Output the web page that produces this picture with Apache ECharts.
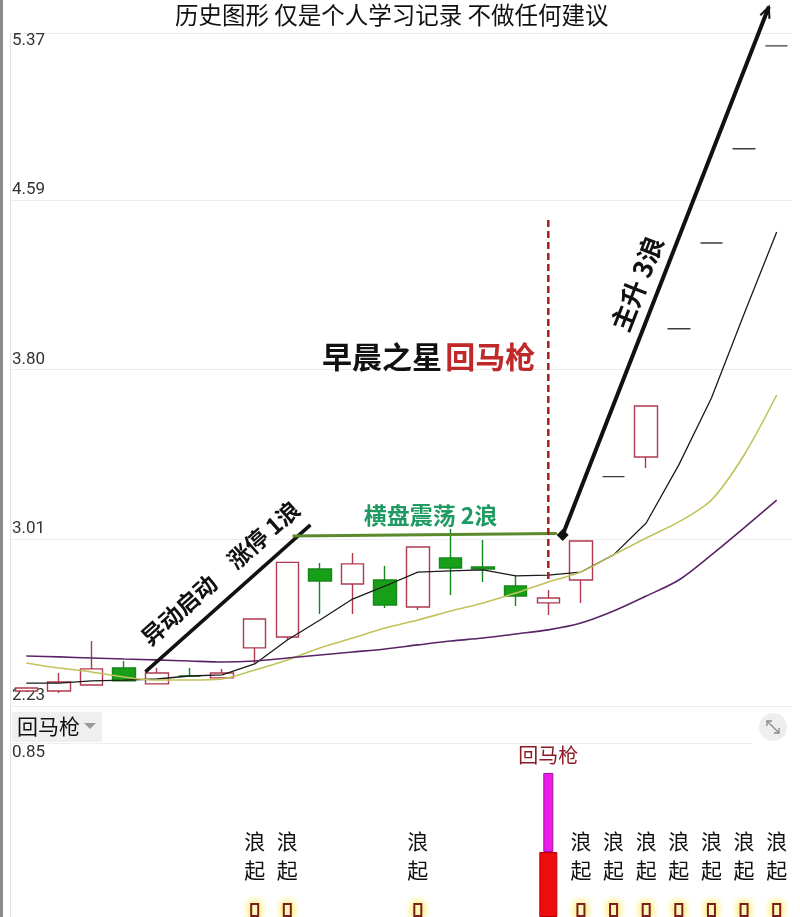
<!DOCTYPE html>
<html>
<head>
<meta charset="utf-8">
<script src="https://cdn.jsdelivr.net/npm/echarts@6/dist/echarts.min.js"></script>
<style>
html,body{margin:0;padding:0;background:#ffffff;}
#c{width:800px;height:917px;}
</style>
</head>
<body>
<div id="c"></div>
<script>
// ---------------- data ----------------
const categories = ['1','2','3','4','5','6','7','8','9','10','11','12','13','14','15','16','17','18','19','20','21','22','23','24'];
const opens  = [2.300, 2.300, 2.328, 2.407, 2.333, 2.370, 2.361, 2.501, 2.552, 2.869, 2.799, 2.818, 2.692, 2.921, 2.879, 2.790, 2.711, 2.818, 3.30, 3.392, 3.99, 4.39, 4.83, 5.31];
const closes = [2.314, 2.342, 2.403, 2.347, 2.384, 2.370, 2.384, 2.636, 2.900, 2.813, 2.893, 2.701, 2.972, 2.874, 2.869, 2.743, 2.734, 3.000, 3.30, 3.630, 3.99, 4.39, 4.83, 5.31];
const lows   = [2.295, 2.291, 2.325, 2.347, 2.333, 2.366, 2.361, 2.431, 2.538, 2.659, 2.659, 2.687, 2.678, 2.748, 2.809, 2.697, 2.655, 2.711, 3.30, 3.341, 3.99, 4.39, 4.83, 5.31];
const highs  = [2.316, 2.384, 2.533, 2.440, 2.407, 2.407, 2.403, 2.636, 2.900, 2.897, 2.944, 2.883, 2.972, 3.056, 3.005, 2.841, 2.771, 3.000, 3.30, 3.630, 3.99, 4.39, 4.83, 5.31];
const oneLineLimitIdx = [18, 20, 21, 22, 23];

const maShort = [2.337, 2.337, 2.347, 2.351, 2.356, 2.370, 2.375, 2.426, 2.538, 2.631, 2.729, 2.790, 2.855, 2.860, 2.865, 2.837, 2.841, 2.855, 2.935, 3.084, 3.355, 3.667, 4.059, 4.442];
const maMid   = [2.431, 2.407, 2.389, 2.365, 2.351, 2.351, 2.356, 2.398, 2.445, 2.501, 2.547, 2.594, 2.631, 2.673, 2.711, 2.757, 2.809, 2.855, 2.935, 3.014, 3.089, 3.191, 3.401, 3.681];
const maLong  = [2.463, 2.459, 2.454, 2.449, 2.445, 2.440, 2.435, 2.440, 2.454, 2.468, 2.482, 2.496, 2.515, 2.533, 2.547, 2.566, 2.585, 2.617, 2.673, 2.743, 2.818, 2.935, 3.061, 3.191];

const yTicks = [2.23, 3.01, 3.80, 4.59, 5.37];
const yTickLabels = ['2.23', '3.01', '3.80', '4.59', '5.37'];
const subTicks = [0.85];
const subTickLabels = ['0.85'];

const waveSignal = ['-','-','-','-','-','-','-',0.069,0.069,'-','-','-',0.069,'-','-','-','-',0.069,0.069,0.069,0.069,0.069,0.069,0.069];
const hmqBase    = ['-','-','-','-','-','-','-','-','-','-','-','-','-','-','-','-',0.321,'-','-','-','-','-','-','-'];
const hmqTop     = ['-','-','-','-','-','-','-','-','-','-','-','-','-','-','-','-',0.712,'-','-','-','-','-','-','-'];

// annotation anchors in (category index, price)
const wave1Line  = [[3.65, 2.389], [8.71, 3.075]];
const wave1Text  = [5.95, 2.850];
const wave2Line  = [[8.16, 3.023], [16.26, 3.035]];
const wave2Text  = [12.39, 3.121];
const starLine   = [[16, 4.498], [16, 2.809]];
const starText   = [12.33, 3.859];
const wave3Arrow = [[16.44, 3.028], [22.76, 5.492]];
const wave3Text  = [18.72, 4.200];

const CJK = '"Noto Sans CJK SC", "Noto Sans", sans-serif';

// ---------------- chart ----------------
const chart = echarts.init(document.getElementById('c'), null, {renderer: 'canvas'});

const candleData = categories.map((c, i) => {
  const item = {value: [opens[i], closes[i], lows[i], highs[i]]};
  if (oneLineLimitIdx.includes(i)) {
    item.itemStyle = {color: '#3c3c3c', color0: '#3c3c3c', borderColor: '#3c3c3c', borderColor0: '#3c3c3c'};
  }
  return item;
});
const hmqUpper = hmqTop.map((v, i) => (v === '-' ? '-' : +(v - hmqBase[i]).toFixed(3)));

function lookup(ticks, labels, v) {
  const k = ticks.findIndex(t => Math.abs(t - v) < 1e-6);
  return k < 0 ? '' : labels[k];
}

const labelRich = {
  up: {padding: [0, 0, 20, 0], fontSize: 17, fontFamily: 'Roboto', fill: '#333', color: '#333'},
  dn: {padding: [16, 0, 0, 0], fontSize: 17, fontFamily: 'Roboto', fill: '#333', color: '#333'}
};

const option = {
  animation: false,
  backgroundColor: '#ffffff',
  title: {
    text: '历史图形 仅是个人学习记录 不做任何建议',
    left: 170, top: -2,
    textStyle: {fontSize: 23.5, fontWeight: 'normal', color: '#111', fontFamily: CJK}
  },
  grid: [
    {left: 10, right: 7, top: 33, bottom: 211, outerBoundsMode: 'none'},
    {left: 10, right: 7, top: 745, bottom: 0, outerBoundsMode: 'none'}
  ],
  xAxis: [
    {type: 'category', gridIndex: 0, data: categories, boundaryGap: true, axisLine: {show: false}, axisTick: {show: false}, axisLabel: {show: false}, splitLine: {show: false}},
    {type: 'category', gridIndex: 1, data: categories, boundaryGap: true, axisLine: {show: false}, axisTick: {show: false}, axisLabel: {show: false}, splitLine: {show: false}},
    {type: 'category', gridIndex: 1, data: categories, boundaryGap: true, show: false},
    {type: 'category', gridIndex: 1, data: categories, boundaryGap: true, show: false}
  ],
  yAxis: [
    {
      type: 'value', gridIndex: 0, min: 2.23, max: 5.37, position: 'left',
      axisLine: {show: false},
      axisTick: {show: false, customValues: yTicks},
      splitLine: {show: true, lineStyle: {color: '#ececec', width: 1}},
      axisLabel: {
        inside: true, margin: 2, customValues: yTicks,
        formatter: v => {
          const t = lookup(yTicks, yTickLabels, v);
          return Math.abs(v - 5.37) < 1e-6 ? '{dn|' + t + '}' : '{up|' + t + '}';
        },
        rich: labelRich, verticalAlign: 'middle', color: '#333', fontSize: 17, fontFamily: 'Roboto'
      }
    },
    {
      type: 'value', gridIndex: 1, min: 0, max: 0.85, position: 'left',
      axisLine: {show: false},
      axisTick: {show: false, customValues: subTicks},
      splitLine: {show: false},
      axisLabel: {
        inside: true, margin: 2, customValues: subTicks,
        formatter: v => '{dn|' + lookup(subTicks, subTickLabels, v) + '}',
        rich: labelRich, verticalAlign: 'middle', color: '#333', fontSize: 17, fontFamily: 'Roboto'
      }
    }
  ],
  series: [
    {
      type: 'candlestick', name: 'K', xAxisIndex: 0, yAxisIndex: 0, z: 2,
      barWidth: 23, data: candleData,
      itemStyle: {color: '#ffffff', color0: '#17a017', borderColor: '#b0384c', borderColor0: '#15861a', borderWidth: 1.4}
    },
    {type: 'line', name: 'MA5', xAxisIndex: 0, yAxisIndex: 0, z: 3, data: maShort, symbol: 'none', lineStyle: {color: '#1a1a1a', width: 1.3}},
    {type: 'line', name: 'MA10', xAxisIndex: 0, yAxisIndex: 0, z: 3, data: maMid, symbol: 'none', smooth: 0.3, lineStyle: {color: '#c2c25a', width: 1.6}},
    {type: 'line', name: 'MA20', xAxisIndex: 0, yAxisIndex: 0, z: 3, data: maLong, symbol: 'none', smooth: 0.3, lineStyle: {color: '#5a2466', width: 1.6}},
    {
      type: 'bar', name: '浪起', xAxisIndex: 1, yAxisIndex: 1, data: waveSignal, barWidth: 9,
      itemStyle: {color: '#ffffff', borderColor: '#7a1f1f', borderWidth: 2, shadowColor: 'rgba(255,225,0,0.95)', shadowBlur: 8},
      label: {show: true, position: 'top', distance: 19, formatter: '浪\n起', fontSize: 21, lineHeight: 29, color: '#111', fontFamily: CJK}
    },
    {
      type: 'bar', name: '回马枪底', xAxisIndex: 2, yAxisIndex: 1, data: hmqBase, barWidth: 18,
      itemStyle: {color: '#ee0c0c', borderColor: '#b40000', borderWidth: 1}
    },
    {
      type: 'bar', name: 'base', xAxisIndex: 3, yAxisIndex: 1, data: hmqBase, barWidth: 10, stack: 'h',
      itemStyle: {color: 'rgba(0,0,0,0)'}
    },
    {
      type: 'bar', name: '回马枪', xAxisIndex: 3, yAxisIndex: 1, data: hmqUpper, barWidth: 10, stack: 'h',
      itemStyle: {color: '#ea1cea', borderColor: '#a0109a', borderWidth: 1},
      label: {show: true, position: 'top', distance: 8, formatter: '回马枪', fontSize: 20, color: '#8b1c24', fontFamily: CJK}
    }
  ]
};
chart.setOption(option);

// ---------------- annotations (anchored in data space) ----------------
function P(idx, price) {
  const a = chart.convertToPixel({gridIndex: 0}, [categories[0], price]);
  const b = chart.convertToPixel({gridIndex: 0}, [categories[1], price]);
  return [a[0] + (b[0] - a[0]) * idx, a[1]];
}
function textAt(anchor, text, font, fill, rotDeg) {
  const p = P(anchor[0], anchor[1]);
  return {
    type: 'text', x: p[0], y: p[1], z: 100, rotation: (rotDeg || 0) * Math.PI / 180,
    style: {text: text, font: font, fill: fill, align: 'center', verticalAlign: 'middle'}
  };
}
const g = [];
// chrome
g.push({type: 'rect', z: 90, shape: {x: 0, y: 0, width: 3, height: 917}, style: {fill: '#8a8a8a'}});
g.push({type: 'line', z: 90, shape: {x1: 10.5, y1: 33, x2: 10.5, y2: 917}, style: {stroke: '#e0e0e0', lineWidth: 1}});
g.push({type: 'line', z: 90, shape: {x1: 10, y1: 743.5, x2: 752, y2: 743.5}, style: {stroke: '#eeeeee', lineWidth: 1}});
g.push({type: 'rect', z: 90, shape: {x: 12, y: 712, width: 90, height: 30, r: 2}, style: {fill: '#efefef'}});
g.push({type: 'text', z: 91, x: 17, y: 726, style: {text: '回马枪', font: '21px ' + CJK, fill: '#111', verticalAlign: 'middle'}});
g.push({type: 'polygon', z: 91, shape: {points: [[84, 723], [96, 723], [90, 729]]}, style: {fill: '#9a9a9a'}});
g.push({type: 'circle', z: 90, shape: {cx: 773, cy: 727, r: 14}, style: {fill: '#eeeeee'}});
g.push({type: 'polyline', z: 91, shape: {points: [[767, 721], [779, 733]]}, style: {stroke: '#888', lineWidth: 1.3}});
g.push({type: 'polyline', z: 91, shape: {points: [[767, 726], [767, 721], [772, 721]]}, style: {stroke: '#888', lineWidth: 1.3, fill: null}});
g.push({type: 'polyline', z: 91, shape: {points: [[774, 733], [779, 733], [779, 728]]}, style: {stroke: '#888', lineWidth: 1.3, fill: null}});

// wave 1
(function () {
  const a = P(wave1Line[0][0], wave1Line[0][1]), b = P(wave1Line[1][0], wave1Line[1][1]);
  g.push({type: 'line', z: 100, shape: {x1: a[0], y1: a[1], x2: b[0], y2: b[1]}, style: {stroke: '#111', lineWidth: 3.5}});
  const ang = -Math.atan2(b[1] - a[1], b[0] - a[0]) * 180 / Math.PI;
  g.push(textAt(wave1Text, '异动启动　涨停 1浪', 'bold 23px ' + CJK, '#111', ang));
})();
// wave 2
(function () {
  const a = P(wave2Line[0][0], wave2Line[0][1]), b = P(wave2Line[1][0], wave2Line[1][1]);
  g.push({type: 'line', z: 100, shape: {x1: a[0], y1: a[1], x2: b[0], y2: b[1]}, style: {stroke: '#5b8a2c', lineWidth: 3}});
  g.push(textAt(wave2Text, '横盘震荡 2浪', 'bold 23px ' + CJK, '#1f9a62', 0));
})();
// morning star dashed line + text
(function () {
  const a = P(starLine[0][0], starLine[0][1]), b = P(starLine[1][0], starLine[1][1]);
  g.push({type: 'line', z: 100, shape: {x1: a[0], y1: a[1], x2: b[0], y2: b[1]}, style: {stroke: '#a51d1d', lineWidth: 2.5, lineDash: [7, 4]}});
  const p = P(starText[0], starText[1]);
  g.push({
    type: 'text', z: 100, x: p[0], y: p[1],
    style: {
      text: '{a|早晨之星} {b|回马枪}', align: 'center', verticalAlign: 'middle',
      rich: {
        a: {fill: '#111', fontSize: 30, fontWeight: 'bold', fontFamily: CJK},
        b: {fill: '#c0282a', fontSize: 30, fontWeight: 'bold', fontFamily: CJK}
      }
    }
  });
})();
// wave 3 arrow
(function () {
  const a = P(wave3Arrow[0][0], wave3Arrow[0][1]), b = P(wave3Arrow[1][0], wave3Arrow[1][1]);
  g.push({type: 'line', z: 100, shape: {x1: a[0], y1: a[1], x2: b[0], y2: b[1]}, style: {stroke: '#111', lineWidth: 4}});
  const t = Math.atan2(b[1] - a[1], b[0] - a[0]);
  const w = 12, s = 0.42;
  g.push({type: 'polyline', z: 100, shape: {points: [
    [b[0] - w * Math.cos(t - s), b[1] - w * Math.sin(t - s)], [b[0], b[1]], [b[0] - w * Math.cos(t + s), b[1] - w * Math.sin(t + s)]
  ]}, style: {stroke: '#111', lineWidth: 2, fill: null}});
  g.push({type: 'polygon', z: 101, shape: {points: [[a[0], a[1] - 6], [a[0] + 6, a[1]], [a[0], a[1] + 6], [a[0] - 6, a[1]]]}, style: {fill: '#111'}});
  const ang = -t * 180 / Math.PI;
  g.push(textAt(wave3Text, '主升 3浪', 'bold 26px ' + CJK, '#111', ang));
})();

chart.setOption({graphic: g});
</script>
</body>
</html>
